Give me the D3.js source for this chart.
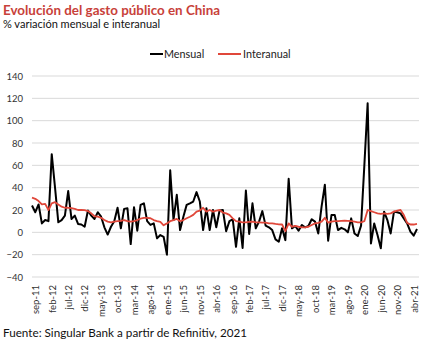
<!DOCTYPE html>
<html><head><meta charset="utf-8">
<script src="https://cdn.jsdelivr.net/npm/d3@7"></script>
<style>body{margin:0;background:#fff}svg{display:block}text{font-family:Lato,"Open Sans",sans-serif}</style>
</head><body><svg id="c" width="432" height="347"></svg>
<script>
const monthNames = ["ene","feb","mar","abr","may","jun","jul","ago","sep","oct","nov","dic"];
// months aug-2011 .. may-2021
const months = [];
for (let y = 2011, m = 7; !(y === 2021 && m === 5); ) { months.push(monthNames[m] + "-" + String(y).slice(2)); m++; if (m === 12) { m = 0; y++; } }
const mensual = [24,18,25,8,11,10,70,40,9,11,15,37,12,15,7.5,7,5,19.5,15,12,18,14,4.5,-2,5,10,22,3.6,21,21.6,
-10.5,22.5,1.5,24.6,26,10,6.6,8,-5.4,-2.4,-4,-20,55.5,11,33.6,2,14,24.6,26,27.6,36,27.6,2,21.6,2,20,4.5,19.5,20,1,
10,11.7,-13,12.6,-14,37.5,-1.5,26,3.6,9.6,19,6,4.5,2,-6.3,-8.4,3.6,-7,48,3.6,5.7,1.5,6.6,4.5,5.7,11.7,9.6,-1,23,42.6,
-7.5,15.5,15.5,2,4,2.7,0,12.5,-1,-3.3,6,60,115.5,-10,8,-2.4,-14.3,18.5,11,-1,18.5,18,17,12.5,8,0.6,-3,3];
const interanual = [31,30,28,25,25.5,20,26,27,25,23,22,22,21.6,21,20,20,19.8,19,17,14.4,14,13,11,9.6,9,9.6,10,10.3,11,10,
9.6,10,11,12.3,13,13,12.6,11,10,9.3,6.3,8,10,11,12,10,11,12.6,14,15.6,18.6,19.5,22,18.6,20,18.6,19.5,20,17.7,17,
15.6,12.5,10,9.6,9,9,9.3,9.6,9,9,8.7,8.7,8,8,7.5,7.2,7,1,8,5,5.7,5,4.5,4.5,5,6.6,8,8.5,9.6,13,
8.7,9.5,10,10,10.2,10.4,10.2,10,9.5,9,9,10,20,19,18,17,16.5,17,16.5,17,18.5,19.4,20,15.5,8.5,7,7,7.5];
const yTicks = [-40,-20,0,20,40,60,80,100,120,140];
const labelEvery = 5, labelStart = 1;

const svg = d3.select("#c");
const x = d3.scalePoint().domain(months).range([32, 417]);
const y = d3.scaleLinear().domain([-40, 140]).range([277, 76]);

// gridlines
svg.append("g").selectAll("line").data(yTicks).join("line")
  .attr("x1", 32).attr("x2", 419).attr("y1", d => y(d)).attr("y2", d => y(d))
  .attr("stroke", "#d9d9d9").attr("stroke-width", 1);

// y axis
const ya = svg.append("g").attr("transform", "translate(23,0)")
  .call(d3.axisLeft(y).tickValues(yTicks).tickSize(0).tickPadding(0));
ya.select(".domain").remove();
ya.selectAll("text").attr("font-size", 9.5).attr("fill", "#333").attr("font-family", "Lato, sans-serif");

// x axis
const xa = svg.append("g").attr("transform", "translate(0,285)")
  .call(d3.axisBottom(x).tickValues(months.filter((d, i) => i >= labelStart && (i - labelStart) % labelEvery === 0)).tickSize(0).tickPadding(0));
xa.select(".domain").remove();
xa.selectAll("text").attr("font-size", 9.5).attr("fill", "#333").attr("font-family", "Lato, sans-serif")
  .attr("transform", "rotate(-90)").attr("text-anchor", "end").attr("x", 0).attr("y", 0).attr("dy", "0.35em");

// lines
const line = data => d3.line().x((d, i) => x(months[i])).y(d => y(d))(data);
svg.append("path").attr("d", line(mensual)).attr("fill", "none").attr("stroke", "#000").attr("stroke-width", 2).attr("stroke-linejoin", "round");
svg.append("path").attr("d", line(interanual)).attr("fill", "none").attr("stroke", "#e0473a").attr("stroke-width", 1.8).attr("stroke-linejoin", "round");

// legend
const lg = svg.append("g");
lg.append("line").attr("x1", 150).attr("x2", 163).attr("y1", 54).attr("y2", 54).attr("stroke", "#000").attr("stroke-width", 2);
lg.append("text").attr("x", 164).attr("y", 57.5).attr("font-size", 10.8).attr("fill", "#222").text("Mensual");
lg.append("line").attr("x1", 218).attr("x2", 241).attr("y1", 54).attr("y2", 54).attr("stroke", "#e0473a").attr("stroke-width", 2);
lg.append("text").attr("x", 243).attr("y", 57.5).attr("font-size", 10.8).attr("fill", "#222").text("Interanual");

// titles
svg.append("text").attr("x", 3).attr("y", 15).attr("font-size", 13.4).attr("font-weight", "bold").attr("fill", "#c8413a").text("Evolución del gasto público en China");
svg.append("text").attr("x", 3).attr("y", 27.5).attr("font-size", 11).attr("fill", "#111").text("% variación mensual e interanual");
svg.append("text").attr("x", 3).attr("y", 337).attr("font-size", 11.7).attr("fill", "#111").text("Fuente: Singular Bank a partir de Refinitiv, 2021");
</script></body></html>
